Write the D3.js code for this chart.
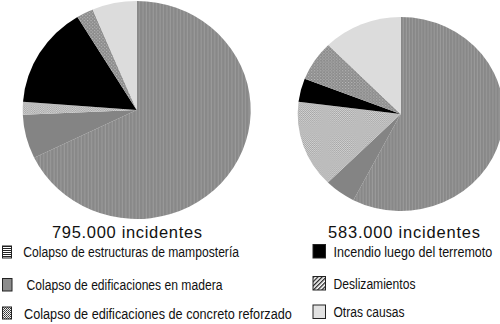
<!DOCTYPE html>
<html>
<head>
<meta charset="utf-8">
<script src="https://cdn.jsdelivr.net/npm/d3@7"></script>
<style>
  html, body { margin: 0; padding: 0; background: #fff; }
  svg { display: block; }
</style>
</head>
<body>
<script>
// Causes of damage, shares in percent for each earthquake
const categories = [
  "Colapso de estructuras de mampostería",
  "Colapso de edificaciones en madera",
  "Colapso de edificaciones de concreto reforzado",
  "Incendio luego del terremoto",
  "Deslizamientos",
  "Otras causas"
];
const sharesLeft  = [67.8, 6.5, 1.9, 15.1, 2.4, 6.3];
const sharesRight = [57.6, 4.9, 14.5, 3.9, 6.7, 12.4];
const totalLabels = ["795.000 incidentes", "583.000 incidentes"];

const W = 500, H = 324;
const svg = d3.select("body").append("svg")
  .attr("width", W).attr("height", H)
  .attr("viewBox", `0 0 ${W} ${H}`);

const defs = svg.append("defs");

// ---- fill patterns used inside the pies ----
function pattern(id, w, h, draw) {
  const p = defs.append("pattern")
    .attr("id", id).attr("patternUnits", "userSpaceOnUse")
    .attr("width", w).attr("height", h);
  draw(p);
}
pattern("pMason", 3, 3, p => {
  p.append("rect").attr("width", 3).attr("height", 3).attr("fill", "#888");
  p.append("rect").attr("x", 2).attr("width", 1).attr("height", 3).attr("fill", "#9a9a9a");
});
pattern("pConcrete", 2, 2, p => {
  p.append("rect").attr("width", 2).attr("height", 2).attr("fill", "#d6d6d6");
  p.append("rect").attr("width", 1).attr("height", 1).attr("fill", "#a2a2a2");
  p.append("rect").attr("x", 1).attr("y", 1).attr("width", 1).attr("height", 1).attr("fill", "#a2a2a2");
});
pattern("pSlide", 3, 3, p => {
  p.append("rect").attr("width", 3).attr("height", 3).attr("fill", "#8c8c8c");
  p.append("rect").attr("width", 1).attr("height", 1).attr("fill", "#bdbdbd");
  p.append("rect").attr("x", 1.5).attr("y", 1.5).attr("width", 1).attr("height", 1).attr("fill", "#bdbdbd");
});

// ---- fill patterns used in the legend keys ----
pattern("lMason", 8, 2, p => {
  p.append("rect").attr("width", 8).attr("height", 2).attr("fill", "#fff");
  p.append("rect").attr("width", 8).attr("height", 1).attr("fill", "#222");
});
pattern("lConcrete", 2, 2, p => {
  p.append("rect").attr("width", 2).attr("height", 2).attr("fill", "#f2f2f2");
  p.append("rect").attr("width", 1).attr("height", 1).attr("fill", "#333");
  p.append("rect").attr("x", 1).attr("y", 1).attr("width", 1).attr("height", 1).attr("fill", "#555");
});
pattern("lSlide", 3, 3, p => {
  p.attr("patternTransform", "rotate(45)");
  p.append("rect").attr("width", 3).attr("height", 3).attr("fill", "#fff");
  p.append("rect").attr("width", 1.3).attr("height", 3).attr("fill", "#222");
});

const pieFills    = ["url(#pMason)", "#848484", "url(#pConcrete)", "#000", "url(#pSlide)", "#dcdcdc"];
const legendFills = ["url(#lMason)", "#8c8c8c", "url(#lConcrete)", "#000", "url(#lSlide)", "#e2e2e2"];

const color = d3.scaleOrdinal().domain(categories).range(pieFills);
const legendColor = d3.scaleOrdinal().domain(categories).range(legendFills);

// ---- pies (slightly wider than tall) ----
const pies = [
  { shares: sharesLeft,  cx: 136.7, cy: 110, rx: 114, ry: 109, label: totalLabels[0], lx: 127, lw: 150 },
  { shares: sharesRight, cx: 400.7, cy: 114, rx: 103, ry: 97,  label: totalLabels[1], lx: 404, lw: 152 }
];

const R = 100;
const pie = d3.pie().sort(null).value(d => d.v);
const arc = d3.arc().innerRadius(0).outerRadius(R);

pies.forEach(cfg => {
  const data = categories.map((c, i) => ({ c, v: cfg.shares[i] }));
  const g = svg.append("g")
    .attr("transform", `translate(${cfg.cx},${cfg.cy}) scale(${cfg.rx / R},${cfg.ry / R})`);
  g.selectAll("path").data(pie(data)).join("path")
    .attr("d", arc)
    .attr("fill", d => color(d.data.c));

  svg.append("text")
    .attr("x", cfg.lx).attr("y", 238)
    .attr("text-anchor", "middle")
    .attr("font-family", "'Liberation Sans', Arial, sans-serif")
    .attr("font-size", 16.5)
    .attr("fill", "#111")
    .attr("textLength", cfg.lw)
    .attr("lengthAdjust", "spacing")
    .text(cfg.label);
});

// ---- legend ----
const legendLayout = [
  { kx: 2.5, ky: 246,   kw: 9,    kh: 12,   tx: 23.3,  ty: 257,   tw: 216 },
  { kx: 2.5, ky: 278.5, kw: 9.5,  kh: 12.5, tx: 26.5,  ty: 290,   tw: 196 },
  { kx: 2.5, ky: 307,   kw: 9,    kh: 12,   tx: 24,    ty: 318.5, tw: 268 },
  { kx: 313, ky: 244.5, kw: 12.5, kh: 13.5, tx: 333.5, ty: 257,   tw: 159 },
  { kx: 313, ky: 276.5, kw: 12.5, kh: 13.5, tx: 333.5, ty: 288.5, tw: 82 },
  { kx: 313, ky: 305,   kw: 12.5, kh: 13.5, tx: 333.5, ty: 317,   tw: 71 }
];

const items = svg.append("g").selectAll("g")
  .data(categories).join("g");

items.append("rect")
  .attr("x", (d, i) => legendLayout[i].kx)
  .attr("y", (d, i) => legendLayout[i].ky)
  .attr("width", (d, i) => legendLayout[i].kw)
  .attr("height", (d, i) => legendLayout[i].kh)
  .attr("fill", d => legendColor(d))
  .attr("stroke", "#222")
  .attr("stroke-width", 1);

// Labels are set in a condensed style: each is squeezed horizontally to its width
items.append("g")
  .attr("class", "lbl")
  .each(function (d, i) {
    const L = legendLayout[i];
    const g = d3.select(this);
    const t = g.append("text")
      .attr("x", 0).attr("y", 0)
      .attr("font-family", "'Liberation Sans', Arial, sans-serif")
      .attr("font-size", 15.5)
      .attr("fill", "#111")
      .text(d);
    const natural = t.node().getComputedTextLength();
    const sx = natural > 0 ? L.tw / natural : 1;
    g.attr("transform", `translate(${L.tx},${L.ty}) scale(${sx},1)`);
  });
</script>
</body>
</html>
